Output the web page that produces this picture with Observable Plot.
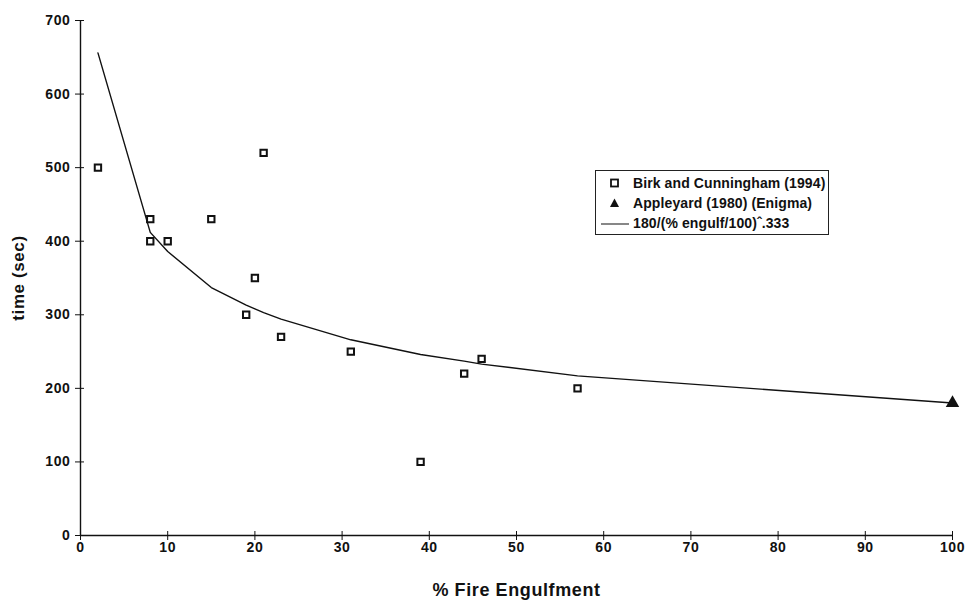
<!DOCTYPE html>
<html>
<head>
<meta charset="utf-8">
<script src="https://cdn.jsdelivr.net/npm/d3@7"></script>
<script src="https://cdn.jsdelivr.net/npm/@observablehq/plot@0.6"></script>
<style>
  body { margin: 0; background: #fff; font-family: "Liberation Sans", Arial, sans-serif; }
  #wrap { position: relative; width: 966px; height: 600px; }
  #wrap svg text { letter-spacing: 0.6px; }
  #legend { position: absolute; left: 595px; top: 170px; width: 234px; height: 65px; border: 1px solid #222; background: #fff; box-sizing: border-box; font-size: 14px; font-weight: bold; color: #111; }
  .row { position: absolute; left: 0; height: 20px; line-height: 20px; white-space: nowrap; }
  .sym { position: absolute; left: 5px; top: 0; width: 30px; height: 20px; }
  .lab { position: absolute; left: 37px; top: 0; letter-spacing: 0.1px; }
</style>
</head>
<body>
<div id="wrap"></div>
<script>
const birkX = [2, 8, 8, 10, 15, 19, 20, 21, 23, 31, 39, 44, 46, 57];
const birkY = [500, 430, 400, 400, 430, 300, 350, 520, 270, 250, 100, 220, 240, 200];
const appleX = [100];
const appleY = [180];
const fitX = [2, 8, 10, 15, 19, 20, 21, 23, 31, 39, 44, 46, 57, 100];
const fitY = [656, 412, 386, 337, 313, 308, 303, 294, 266, 246, 237, 233, 217, 180];
const xTicks = [0, 10, 20, 30, 40, 50, 60, 70, 80, 90, 100];
const yTicks = [0, 100, 200, 300, 400, 500, 600, 700];
const legendLabels = ["Birk and Cunningham (1994)", "Appleyard (1980) (Enigma)", "180/(% engulf/100)^.333"];

const birk = birkX.map((x, i) => ({x, y: birkY[i]}));
const apple = appleX.map((x, i) => ({x, y: appleY[i]}));
const fit = fitX.map((x, i) => ({x, y: fitY[i]}));

const chart = Plot.plot({
  width: 966,
  height: 600,
  marginLeft: 80,
  marginRight: 14,
  marginTop: 20,
  marginBottom: 65,
  style: {fontFamily: "'Liberation Sans', Arial, sans-serif", fontSize: "14px", fontWeight: "bold", color: "#111", background: "#fff"},
  x: {domain: [0, 100], ticks: xTicks, label: null},
  y: {domain: [0, 700], ticks: yTicks, label: null},
  marks: [
    Plot.ruleX([0], {stroke: "#111", strokeWidth: 1.4}),
    Plot.ruleY([0], {stroke: "#111", strokeWidth: 1.4}),
    Plot.axisX({ticks: xTicks, tickSize: 5, tickPadding: 2, label: null, fontSize: 14, fontWeight: "bold", stroke: "#111"}),
    Plot.axisX({ticks: xTicks, tickSize: -4, tickFormat: () => "", label: null, stroke: "#111"}),
    Plot.axisY({ticks: yTicks, tickSize: 5, tickPadding: 5, label: null, fontSize: 14, fontWeight: "bold", stroke: "#111"}),
    Plot.axisY({ticks: yTicks, tickSize: -4, tickFormat: () => "", label: null, stroke: "#111"}),
    Plot.text(["% Fire Engulfment"], {frameAnchor: "bottom", dy: 60, fontSize: 18, fontWeight: "bold", fill: "#111"}),
    Plot.text(["time (sec)"], {frameAnchor: "left", textAnchor: "middle", dx: -62, rotate: -90, fontSize: 17, fontWeight: "bold", fill: "#111"}),
    Plot.line(fit, {x: "x", y: "y", stroke: "#111", strokeWidth: 1.4}),
    Plot.dot(birk, {x: "x", y: "y", symbol: "square", r: 3.6, stroke: "#111", strokeWidth: 2, fill: "#fff"}),
    Plot.dot(apple, {x: "x", y: "y", symbol: "triangle", r: 5, fill: "#111", stroke: "none"})
  ]
});

const wrap = document.getElementById("wrap");
wrap.appendChild(chart);

const legend = document.createElement("div");
legend.id = "legend";
const syms = [
  '<svg width="30" height="20"><rect x="10" y="6.5" width="7" height="7" fill="#fff" stroke="#111" stroke-width="1.8"/></svg>',
  '<svg width="30" height="20"><path d="M13.5,5.5 L18,14 L9,14 Z" fill="#111"/></svg>',
  '<svg width="30" height="20"><line x1="-5" y1="11" x2="28" y2="11" stroke="#111" stroke-width="1.2"/></svg>'
];
legendLabels.forEach((t, i) => {
  const row = document.createElement("div");
  row.className = "row";
  row.style.top = (2 + i * 20) + "px";
  row.style.width = "100%";
  row.innerHTML = '<div class="sym">' + syms[i] + '</div><div class="lab">' + t.replace("^", "&#710;") + '</div>';
  legend.appendChild(row);
});
wrap.appendChild(legend);
</script>
</body>
</html>
